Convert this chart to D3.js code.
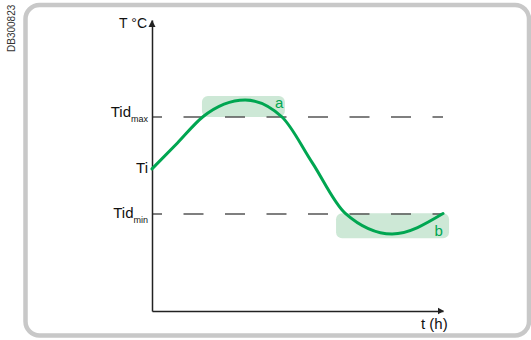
<!DOCTYPE html>
<html>
<head>
<meta charset="utf-8">
<script src="https://cdn.jsdelivr.net/npm/d3@7"></script>
<style>
  html, body { margin: 0; padding: 0; background: #fff; }
  svg { display: block; font-family: "Liberation Sans", Arial, sans-serif; }
</style>
</head>
<body>
<svg id="chart" width="531" height="340"></svg>
<script>
// ---- data ----
const tValues = [0, 1.05, 2.10, 3.84, 5.35, 6.60, 7.96, 9.90, 12.0];
const tempValues = [21.86, 22.93, 24.01, 24.70, 24.01, 22.13, 20.04, 19.18, 20.02];
const levelNames = ["Tid", "Ti", "Tid"];
const levelSubs = ["max", "", "min"];
const levelValues = [24, 21.86, 20];
const dashedLevels = [24, 20];
const zoneLabels = ["a", "b"];
const zoneT0 = [2.06, 7.59];
const zoneT1 = [5.48, 12.25];
const zoneLow = [24.0, 19.0];
const zoneHigh = [24.87, 20.03];
const axisLabelY = "T °C";
const axisLabelX = "t (h)";
const figureCode = "DB300823";

// ---- scales ----
const x = d3.scaleLinear().domain([0, 12]).range([152, 443]);
const y = d3.scaleLinear().domain([16, 28]).range([311, 20]);

const svg = d3.select("#chart");
const green = "#00a651";

// frame
svg.append("rect")
  .attr("x", 25.5).attr("y", 5)
  .attr("width", 503.5).attr("height", 330.5)
  .attr("rx", 14).attr("ry", 14)
  .attr("fill", "none").attr("stroke", "#c8c8c8").attr("stroke-width", 4.5);

// figure code
svg.append("text")
  .attr("transform", "translate(14.5,52) rotate(-90)")
  .attr("font-size", 10).attr("fill", "#333")
  .text(figureCode);

// highlight zones
const zones = zoneLabels.map((l, i) => ({ l, t0: zoneT0[i], t1: zoneT1[i], lo: zoneLow[i], hi: zoneHigh[i] }));
svg.selectAll("rect.zone").data(zones).enter().append("rect")
  .attr("class", "zone")
  .attr("x", d => x(d.t0)).attr("y", d => y(d.hi))
  .attr("width", d => x(d.t1) - x(d.t0)).attr("height", d => y(d.lo) - y(d.hi))
  .attr("rx", 6).attr("ry", 6)
  .attr("fill", "#cde8d6");

// dashed levels
svg.selectAll("line.level").data(dashedLevels).enter().append("line")
  .attr("class", "level")
  .attr("x1", x(0)).attr("x2", x(12))
  .attr("y1", d => y(d)).attr("y2", d => y(d))
  .attr("stroke", "#555").attr("stroke-width", 1.4)
  .attr("stroke-dasharray", "20,21.5").attr("stroke-dashoffset", 10);

// axes
const gx = svg.append("g").attr("transform", `translate(0,${y(16)})`)
  .call(d3.axisBottom(x).tickValues([]).tickSizeOuter(0));
const gy = svg.append("g").attr("transform", `translate(${x(0)},0)`)
  .call(d3.axisLeft(y).tickValues([]).tickSizeOuter(0));
[gx, gy].forEach(g => g.select(".domain").attr("stroke", "#222").attr("stroke-width", 1.5));

// arrowheads
const yTip = [x(0), y(28)];
svg.append("path")
  .attr("d", `M${yTip[0]},${yTip[1]} L${yTip[0]-3.5},${yTip[1]+7} L${yTip[0]+3.5},${yTip[1]+7} Z`)
  .attr("fill", "#222");
const xTip = [x(12), y(16)];
svg.append("path")
  .attr("d", `M${xTip[0]+1},${xTip[1]} L${xTip[0]-5},${xTip[1]-3.2} L${xTip[0]-5},${xTip[1]+3.2} Z`)
  .attr("fill", "#222");

// axis labels
svg.append("text").attr("x", 147).attr("y", 28)
  .attr("text-anchor", "end").attr("font-size", 14).attr("fill", "#111")
  .text(axisLabelY);
svg.append("text").attr("x", 421).attr("y", 328.5)
  .attr("font-size", 15).attr("fill", "#111")
  .text(axisLabelX);

// level labels
const levelBaseOffsets = [0, 4, 3.5];
levelNames.forEach((n, i) => {
  const t = svg.append("text")
    .attr("x", x(0) - 4)
    .attr("y", y(levelValues[i]) + levelBaseOffsets[i])
    .attr("text-anchor", "end").attr("font-size", 15).attr("fill", "#111");
  t.append("tspan").text(n);
  if (levelSubs[i]) {
    t.append("tspan").attr("font-size", 9).attr("dy", 5).text(levelSubs[i]);
  }
});

// curve
const pts = tValues.map((t, i) => [t, tempValues[i]]);
const line = d3.line()
  .x(d => x(d[0])).y(d => y(d[1]))
  .curve(d3.curveMonotoneX);
svg.append("path")
  .attr("d", line(pts))
  .attr("fill", "none").attr("stroke", green).attr("stroke-width", 3)
  .attr("stroke-linecap", "round");

// zone labels
const labelPos = [[275, 108], [434.5, 236]];
svg.selectAll("text.zl").data(zones).enter().append("text")
  .attr("class", "zl")
  .attr("x", (d, i) => labelPos[i][0]).attr("y", (d, i) => labelPos[i][1])
  .attr("font-size", 15).attr("fill", green)
  .text(d => d.l);
</script>
</body>
</html>
